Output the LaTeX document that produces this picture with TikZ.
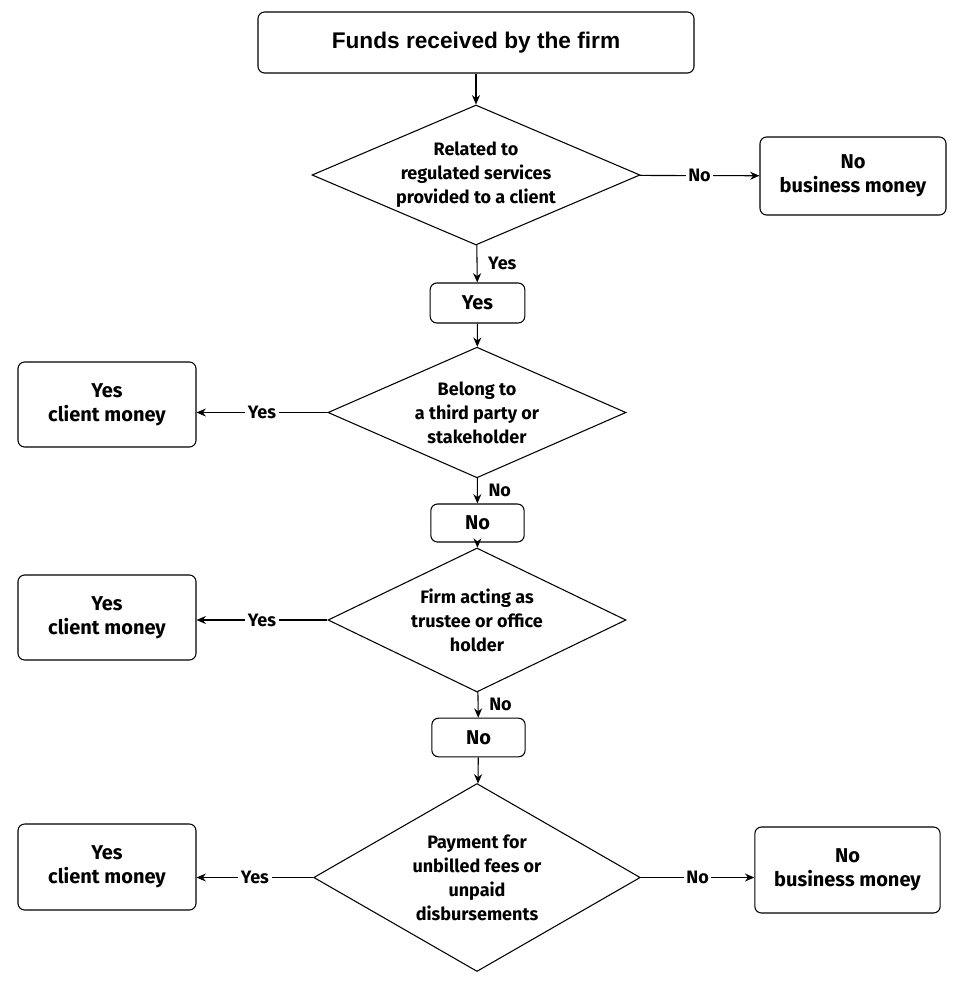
\documentclass[tikz,border=0pt]{standalone}
\usepackage{fontspec}
\setmainfont{Fira Sans}
\newfontfamily\arialb{Liberation Sans}
\usetikzlibrary{shapes.geometric,arrows.meta}
\begin{document}
\begin{tikzpicture}[x=0.75pt,y=-0.75pt,
  box/.style={draw,thick,rounded corners=5pt,align=center,inner sep=0pt,font=\fontsize{15}{18}\selectfont\bfseries},
  dia/.style={draw,thick,diamond,aspect=2.3,align=center,inner sep=0pt,font=\fontsize{13.5}{18}\selectfont\bfseries},
  arr/.style={thick,-{Stealth[length=7pt,width=6pt]}},
  lbl/.style={fill=white,inner sep=2pt,font=\fontsize{13.5}{16}\selectfont\bfseries}]
\useasboundingbox[fill=white] (0,0) rectangle (964,989);
\node[box,minimum width=327pt,minimum height=45.75pt,font=\fontsize{17}{20}\selectfont\arialb\bfseries] (top) at (476,42.5) {Funds received by the firm};
\node[dia,minimum width=246pt,minimum height=105pt] (d1) at (476,175) {Related to\\regulated services\\provided to a client};
\node[box,minimum width=139.5pt,minimum height=58.5pt] (r1) at (853,176) {No\\business money};
\node[box,minimum width=71pt,minimum height=30pt] (y1) at (477.5,303) {Yes};
\node[dia,minimum width=223.5pt,minimum height=98pt] (d2) at (477,412.5) {Belong to\\a third party or\\stakeholder};
\node[box,minimum width=133.5pt,minimum height=63.75pt] (l2) at (107,404.5) {Yes\\client money};
\node[box,minimum width=70pt,minimum height=28.5pt] (n2) at (477.5,523) {No};
\node[dia,minimum width=223.5pt,minimum height=108pt] (d3) at (477,620) {Firm acting as\\trustee or office\\holder};
\node[box,minimum width=133.5pt,minimum height=63.75pt] (l3) at (107,617.5) {Yes\\client money};
\node[box,minimum width=70pt,minimum height=29pt] (n3) at (478.5,737.5) {No};
\node[dia,minimum width=232.5pt,minimum height=141pt] (d4) at (477,877.5) {Payment for\\unbilled fees or\\unpaid\\disbursements};
\node[box,minimum width=133.5pt,minimum height=64.5pt] (l4) at (107,867) {Yes\\client money};
\node[box,minimum width=139pt,minimum height=64.5pt] (r4) at (847.5,870) {No\\business money};
\draw[arr] (top) -- (d1);
\draw[arr] (d1) -- node[lbl]{No} (r1);
\draw[arr] (d1) -- node[lbl,right=6pt,fill=none]{Yes} (y1);
\draw[arr] (y1) -- (d2);
\draw[arr] (d2.west) -- node[lbl]{Yes} (l2.east|-d2.west);
\draw[arr] (d2) -- node[lbl,right=6pt,fill=none]{No} (n2);
\draw[arr] (n2) -- (d3);
\draw[arr] (d3.west) -- node[lbl]{Yes} (l3.east|-d3.west);
\draw[arr] (d3) -- node[lbl,right=6pt,fill=none]{No} (n3);
\draw[arr] (n3) -- (d4);
\draw[arr] (d4.west) -- node[lbl]{Yes} (l4.east|-d4.west);
\draw[arr] (d4.east) -- node[lbl]{No} (r4.west|-d4.east);
\end{tikzpicture}
\end{document}
